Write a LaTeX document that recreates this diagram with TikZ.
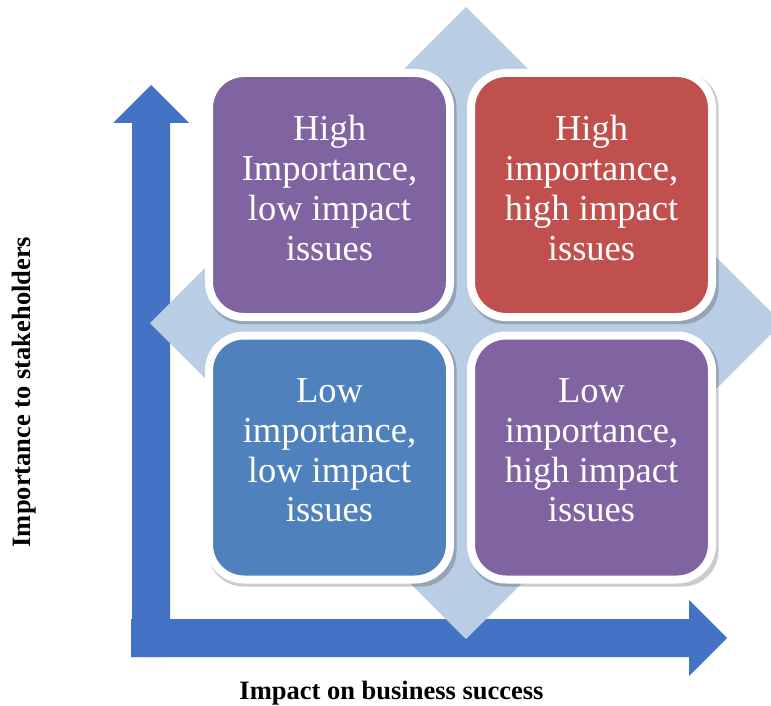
\documentclass[tikz,border=0pt]{standalone}
\usepackage{fontspec}
\setmainfont{Liberation Serif}
\usetikzlibrary{shadows}

\definecolor{axisblue}{HTML}{4472C4}
\definecolor{diamondblue}{HTML}{B9CDE5}
\definecolor{cellpurple}{HTML}{8064A2}
\definecolor{cellred}{HTML}{C0504D}
\definecolor{cellblue}{HTML}{4F81BD}

\begin{document}
\begin{tikzpicture}[x=1pt,y=-1pt,
  cell/.style={rectangle, rounded corners=35pt, draw=white, line width=8pt,
    minimum width=241pt, minimum height=244pt, inner sep=0pt,
    drop shadow={shadow xshift=2.5pt, shadow yshift=-3pt, shadow scale=1.033,
      opacity=0.2, fill=black}},
  celltext/.style={text=white, align=center, inner sep=0pt,
    font=\fontsize{36.5}{39.7}\selectfont},
  axislabel/.style={inner sep=0pt, anchor=base,
    font=\fontsize{26.5}{30}\selectfont\bfseries}]

\useasboundingbox (0,0) rectangle (771,706);

% axis arrows
\fill[axisblue] (132,657) -- (132,123) -- (113,123) -- (151,85) -- (189,123)
  -- (170,123) -- (170,657) -- cycle;
\fill[axisblue] (131,619) -- (689,619) -- (689,600) -- (727,638) -- (689,676)
  -- (689,657) -- (131,657) -- cycle;

% background diamond
\fill[diamondblue] (466,7) -- (782,323) -- (466,639) -- (150,323) -- cycle;

% the four quadrants
\node[cell, fill=cellpurple] (hilo) at (329.5,195) {};
\node[cell, fill=cellred]    (hihi) at (591.5,195) {};
\node[cell, fill=cellblue]   (lolo) at (329.5,457.5) {};
\node[cell, fill=cellpurple] (lohi) at (591.5,457.5) {};

\node[celltext] (hilot) at ([yshift=7pt]hilo.center) {High\\Importance,\\low impact\\issues};
\node[celltext] (hihit) at ([yshift=7pt]hihi.center) {High\\importance,\\high impact\\issues};
\node[celltext] (lolot) at ([yshift=7pt]lolo.center) {Low\\importance,\\low impact\\issues};
\node[celltext] (lohit) at ([yshift=7pt]lohi.center) {Low\\importance,\\high impact\\issues};

% axis titles
\node[axislabel] (xlab) at (391.5,699) {Impact on business success};
\node[axislabel, rotate=90] (ylab) at (30,392) {Importance to stakeholders};
\end{tikzpicture}
\end{document}
